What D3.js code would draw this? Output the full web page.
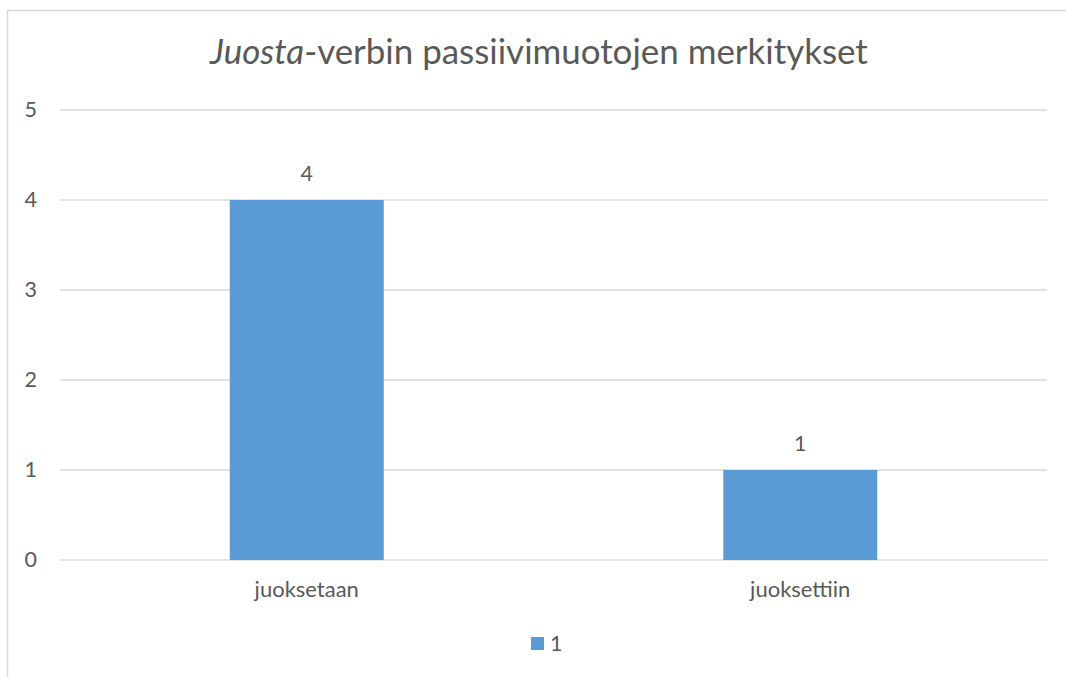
<!DOCTYPE html>
<html>
<head>
<meta charset="utf-8">
<script src="https://cdn.jsdelivr.net/npm/d3@7"></script>
<style>
  html, body { margin: 0; padding: 0; background: #fff; }
  svg { display: block; font-family: Lato, "Open Sans", sans-serif; }
</style>
</head>
<body>
<svg id="chart" width="1066" height="677"></svg>
<script>
const categories = ["juoksetaan", "juoksettiin"];
const seriesName = "1";
const values = [4, 1];
const yTicks = [0, 1, 2, 3, 4, 5];

const svg = d3.select("#chart");
const W = 1066, H = 677;
const margin = { left: 60, right: 19, top: 110, bottom: 117 };
const textColor = "#595959";
const gridColor = "#D9D9D9";
const barColor = "#5B9BD5";
const fs = "21.5px";

// Chart border (top and left visible)
svg.append("path")
  .attr("d", `M7.5,${H} L7.5,10.5 L${W},10.5`)
  .attr("fill", "none").attr("stroke", gridColor).attr("stroke-width", 1.5);

const x = d3.scaleBand().domain(categories)
  .range([margin.left, W - margin.right])
  .paddingInner(0.688).paddingOuter(0.344);
const y = d3.scaleLinear().domain([0, 5]).range([H - margin.bottom, margin.top]);

// Gridlines
svg.append("g").selectAll("line").data(yTicks).join("line")
  .attr("x1", margin.left).attr("x2", W - margin.right)
  .attr("y1", d => y(d)).attr("y2", d => y(d))
  .attr("stroke", gridColor).attr("stroke-width", 1.5);

// Y axis labels
const yAxis = d3.axisLeft(y).tickValues(yTicks).tickFormat(d3.format("d")).tickSize(0).tickPadding(0);
const yg = svg.append("g").attr("transform", `translate(37,0)`).call(yAxis);
yg.select(".domain").remove();
yg.selectAll("text").attr("fill", textColor).style("font-size", fs)
  .style("font-family", "Lato, 'Open Sans', sans-serif");

// Bars
svg.append("g").selectAll("rect").data(values).join("rect")
  .attr("x", (d, i) => x(categories[i]))
  .attr("width", x.bandwidth())
  .attr("y", d => y(d))
  .attr("height", d => y(0) - y(d))
  .attr("fill", barColor);

// Value labels
svg.append("g").selectAll("text").data(values).join("text")
  .attr("x", (d, i) => x(categories[i]) + x.bandwidth() / 2)
  .attr("y", d => y(d) - 19)
  .attr("text-anchor", "middle")
  .attr("fill", textColor).style("font-size", fs)
  .text(d => d);

// X axis labels
const xAxis = d3.axisBottom(x).tickSize(0).tickPadding(0);
const xg = svg.append("g").attr("transform", `translate(0,${y(0)})`).call(xAxis);
xg.select(".domain").remove();
xg.selectAll("text").attr("fill", textColor).style("font-size", "22px")
  .style("font-family", "Lato, 'Open Sans', sans-serif")
  .attr("dy", null).attr("y", 37);

// Title
const title = svg.append("text")
  .attr("x", 539).attr("y", 64)
  .attr("text-anchor", "middle")
  .attr("fill", textColor).style("font-size", "31px");
title.append("tspan").style("font-style", "italic").text("Juosta");
title.append("tspan").text("-verbin passiivimuotojen merkitykset");
const tw = title.node().getComputedTextLength();
title.style("font-size", (31 * 658 / tw).toFixed(2) + "px");

// Legend
const lg = svg.append("g");
lg.append("rect").attr("x", 531).attr("y", 637).attr("width", 13).attr("height", 13).attr("fill", barColor);
lg.append("text").attr("x", 550).attr("y", 651).attr("fill", textColor)
  .style("font-size", fs).text(seriesName);
</script>
</body>
</html>
